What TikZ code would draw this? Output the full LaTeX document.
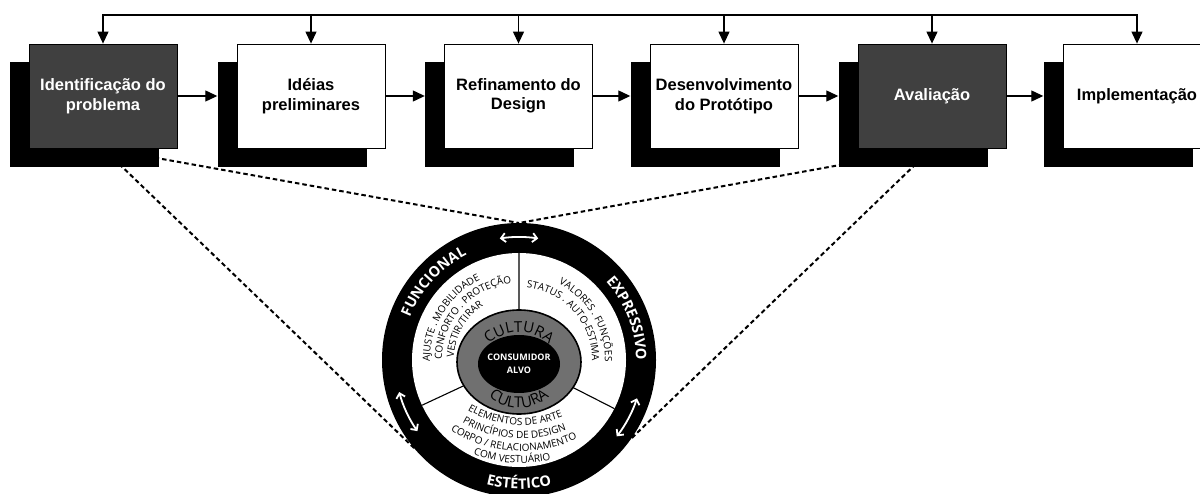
\documentclass[tikz,border=0pt]{standalone}
\usepackage{fontspec}
\setmainfont{Liberation Sans}
\newfontfamily\wheelfont{Open Sans}
\usetikzlibrary{arrows.meta,decorations.text}
\definecolor{stagedark}{HTML}{404040}
\definecolor{culturegray}{HTML}{707070}
\pgfdeclarelayer{back}
\pgfsetlayers{back,main}

\tikzset{
  stage/.style={draw=black, line width=0.8pt, minimum width=148pt, minimum height=104pt,
    inner sep=0pt, align=center, font=\fontsize{16.5}{19.5}\selectfont\bfseries},
  lightstage/.style={stage, fill=white, text=black},
  darkstage/.style={stage, fill=stagedark, text=white},
  shade/.style={fill=black, minimum width=149pt, minimum height=105pt, inner sep=0pt},
  flow/.style={line width=1.2pt, -{Triangle[length=12pt,width=11pt]}},
  bus/.style={line width=1.2pt},
  zoomline/.style={line width=2pt, dash pattern=on 4.5pt off 3pt},
  swap/.style={white, line width=1.8pt,
    {Straight Barb[length=4.5pt,width=9pt]}-{Straight Barb[length=4.5pt,width=9pt]}},
  ringlabel/.style={decorate, decoration={text along path, text align=center,
    text color=white, text={|\wheelfont\bfseries\fontsize{14.5}{14.5}\selectfont|#1}}},
  sectortext/.style 2 args={decorate, decoration={text along path, text align=#1,
    text={|\wheelfont\fontsize{10}{10}\selectfont|#2}}},
  culturetext/.style={decorate, decoration={text along path, text align=center,
    text={|\wheelfont\fontsize{15}{15}\selectfont|#1}}},
}

\begin{document}
\begin{tikzpicture}[x=1pt,y=-1pt]
\useasboundingbox (0,0) rectangle (1200,494);
\clip (0,0) rectangle (1200,494);

% drop shadows behind the stage boxes
\foreach \n/\x in {1/103,2/311,3/518.5,4/724,5/932,6/1137}
  \node[shade] (s\n) at (\x-19,114.5) {};

% stage boxes
\node[darkstage]  (b1) at (103,96)   {Identificação do\\problema};
\node[lightstage] (b2) at (311,96)   {Idéias\\preliminares};
\node[lightstage] (b3) at (518.5,96) {Refinamento do\\Design};
\node[lightstage] (b4) at (724,96)   {Desenvolvimento\\do Protótipo};
\node[darkstage]  (b5) at (932,96)   {Avaliação};
\node[lightstage] (b6) at (1137,96)  {Implementação};

% feedback bus along the top
\coordinate (busL) at (103,15);
\coordinate (busR) at (1137,15);
\draw[flow] (b2.north |- busL) -- (busL) -- (b1.north);
\draw[flow] (b5.north |- busR) -- (busR) -- (b6.north);
\draw[bus] (b2.north |- busL) -- (b5.north |- busR);
\foreach \n in {2,3,4,5}
  \draw[flow] (b\n.north |- busL) -- (b\n.north);

% forward arrows between stages
\foreach \a/\b in {1/2,2/3,3/4,4/5,5/6}
  \draw[flow] (b\a.east) -- (s\b.west |- b\a.east);

% consumer wheel
\begin{scope}[shift={(519,360)}, y=1pt]
  \fill[black] (0,0) circle[radius=137];
  \fill[white] (0,0) circle[radius=107];
  \coordinate (ringtop) at (90:137);
  \coordinate (ringsw) at (220:137);
  \coordinate (ringse) at (325:137);
  \draw[line width=1.1pt] (0,0) -- (90:107) (0,0) -- (205:107) (0,0) -- (333:107);
  \draw[fill=culturegray, line width=1.6pt] (0,-2) ellipse[x radius=62, y radius=52];
  \fill[black] (0,-4) ellipse[x radius=41, y radius=29];
  \node[font=\wheelfont\bfseries\fontsize{9}{13}\selectfont, text=white, align=center]
    (core) at (0,-4) {CONSUMIDOR\\ALVO};

  % two-way arrows in the ring
  \draw[swap] (99:123) arc[start angle=99, end angle=81, radius=123];
  \draw[swap] (195:124) arc[start angle=195, end angle=215, radius=124];
  \draw[swap] (342:124) arc[start angle=342, end angle=322, radius=124];

  % ring labels
  \path[ringlabel=FUNCIONAL] (180:117) arc[start angle=180, end angle=95, radius=117];
  \path[ringlabel=EXPRESSIVO] (60:117) arc[start angle=60, end angle=-18, radius=117];
  \path[ringlabel=ESTÉTICO] (230:129) arc[start angle=230, end angle=310, radius=129];

  % functional sector
  \path[sectortext={left}{AJUSTE . MOBILIDADE}] (181:89) arc[start angle=181, end angle=80, radius=89];
  \path[sectortext={left}{CONFORTO . PROTEÇÃO}] (180:77) arc[start angle=180, end angle=70, radius=77];
  \path[sectortext={left}{VESTIR/TIRAR}] (178:65) arc[start angle=178, end angle=90, radius=65];

  % expressive sector
  \path[sectortext={right}{VALORES . FUNÇÕES}] (100:86) arc[start angle=100, end angle=-1, radius=86];
  \path[sectortext={right}{STATUS . AUTO-ESTIMA}] (100:73) arc[start angle=100, end angle=-1, radius=73];

  % aesthetic sector
  \begin{scope}[rotate=-4]
    \begin{scope}[shift={(0,40)}]
      \path[sectortext={center}{ELEMENTOS DE ARTE}] (230:105) arc[start angle=230, end angle=310, radius=105];
      \path[sectortext={center}{PRINCÍPIOS DE DESIGN}] (230:118.5) arc[start angle=230, end angle=310, radius=118.5];
      \path[sectortext={center}{CORPO / RELACIONAMENTO}] (230:131) arc[start angle=230, end angle=310, radius=131];
      \path[sectortext={center}{COM VESTUÁRIO}] (245:143) arc[start angle=245, end angle=295, radius=143];
    \end{scope}
  \end{scope}

  % culture band
  \begin{scope}[shift={(0,-15)}]
    \path[culturetext=CULTURA] (135:43) arc[start angle=135, end angle=45, radius=43];
  \end{scope}
  \begin{scope}[shift={(0,-3)}]
    \path[culturetext=CULTURA] (230:45) arc[start angle=230, end angle=310, radius=45];
  \end{scope}
\end{scope}

% zoom lines from the two highlighted stages to the wheel
\begin{pgfonlayer}{back}
  \draw[zoomline] (b1.south) -- (ringtop);
  \draw[zoomline] (b1.south) -- (ringsw);
  \draw[zoomline] (b5.south) -- (ringtop);
  \draw[zoomline] (b5.south) -- (ringse);
\end{pgfonlayer}
\end{tikzpicture}
\end{document}
